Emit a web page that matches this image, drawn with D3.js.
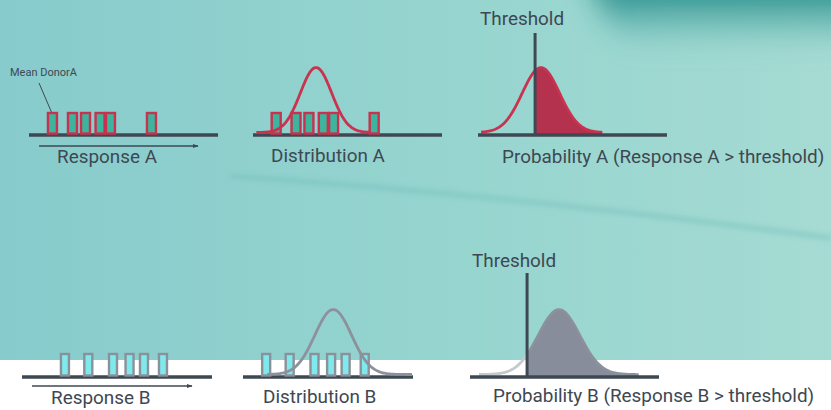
<!DOCTYPE html>
<html><head><meta charset="utf-8">
<script src="https://cdn.jsdelivr.net/npm/d3@7"></script>
<style>
html,body{margin:0;padding:0;background:#fff;}
svg{display:block;font-family:Roboto,"Noto Sans",sans-serif;}
</style></head>
<body>
<svg id="c" width="831" height="410"></svg>
<script>
// ---- data ----
const groups = ["A", "B"];
const responseA = [12.4, 23.0, 29.9, 37.6, 43.1, 64.8];   // donor responses, group A
const responseB = [22.6, 34.9, 47.9, 56.6, 64.2, 74.2];   // donor responses, group B
const distMean = [33.7, 57.7];     // fitted distribution mean (A, B)
const distSD = [8.4, 9.6];         // fitted distribution sd (A, B)
const probMean = [33.3, 47.1];     // distribution shown on probability panel
const probSD = [9.9, 11.0];
const threshold = 30.2;            // common threshold
const responseLabels = ["Response A", "Response B"];
const distLabels = ["Distribution A", "Distribution B"];
const probLabels = ["Probability A (Response A > threshold)", "Probability B (Response B > threshold)"];
const thresholdLabel = "Threshold";
const meanLabel = "Mean DonorA";

// ---- drawing ----
const svg = d3.select("#c");
const W = 831, H = 410;
const defs = svg.append("defs");

const bg = defs.append("linearGradient").attr("id", "bg").attr("x1", 0).attr("x2", 1).attr("y1", 0).attr("y2", 0);
bg.append("stop").attr("offset", "0").attr("stop-color", "#87cbcc");
bg.append("stop").attr("offset", "0.5").attr("stop-color", "#95d4cf");
bg.append("stop").attr("offset", "1").attr("stop-color", "#a5dbd3");
const dk = defs.append("linearGradient").attr("id", "dk").attr("x1", 0).attr("x2", 0).attr("y1", 0).attr("y2", 1);
dk.append("stop").attr("offset", "0").attr("stop-color", "#15817f").attr("stop-opacity", 1);
dk.append("stop").attr("offset", "0.4").attr("stop-color", "#238c8a").attr("stop-opacity", 0.75);
dk.append("stop").attr("offset", "1").attr("stop-color", "#4fa9a6").attr("stop-opacity", 0);
defs.append("filter").attr("id", "soft").attr("x", "-50%").attr("y", "-100%").attr("width", "200%").attr("height", "300%")
  .append("feGaussianBlur").attr("stdDeviation", 14);
defs.append("filter").attr("id", "blur").attr("x", "-20%").attr("y", "-200%").attr("width", "140%").attr("height", "500%")
  .append("feGaussianBlur").attr("stdDeviation", 2.4);
defs.append("marker").attr("id", "arr").attr("viewBox", "0 0 10 10").attr("refX", 9).attr("refY", 5)
  .attr("markerWidth", 6).attr("markerHeight", 6).attr("markerUnits", "userSpaceOnUse").attr("orient", "auto")
  .append("path").attr("d", "M0,1.5 L10,5 L0,8.5 Z").attr("fill", "#3e4852");

svg.append("rect").attr("width", W).attr("height", H).attr("fill", "url(#bg)");
svg.append("path").attr("d", "M590,-30 L880,-30 L880,40 Q760,52 640,46 Q600,40 590,-30 Z")
  .attr("fill", "url(#dk)").attr("filter", "url(#soft)");
svg.append("path").attr("d", "M230,176 Q520,196 831,238").attr("fill", "none")
  .attr("stroke", "#74bfba").attr("stroke-width", 5).attr("opacity", 0.5).attr("filter", "url(#blur)");
svg.append("rect").attr("x", 0).attr("y", 360).attr("width", W).attr("height", H - 360).attr("fill", "#ffffff");

const ink = "#3e4852";
const styles = [
  {bar: "#c8324e", barFill: "#3db49d", curve: "#c9334f", fill: "#b5324f", left: "#c9334f"},
  {bar: "#8b919a", barFill: "#7fe9ec", curve: "#8c919c", fill: "#878d9b", left: "#c4c9cc"}
];
const layout = [
  {base: 135, textY: 163, r: [29, 218], rAxis: [29, 218], arrowY: 146, arrow: [39, 198], rTx: 57,
   d: [253, 440], dAxis: [253, 442], dTx: 271, dTy: 162, dExt: [-3.8, 3.5],
   p: [478, 667], pAxis: [478, 667], pTx: 502, pTy: 163, thTop: 33, thTx: 480, thTy: 25, pExt: [-3.2, 3.3]},
  {base: 377, textY: 404, r: [22, 212], rAxis: [22, 212], arrowY: 386, arrow: [32, 192], rTx: 51,
   d: [223, 414], dAxis: [243, 413], dTx: 263, dTy: 403, dExt: [-3.6, 4.3],
   p: [470, 659], pAxis: [470, 659], pTx: 493, pTy: 402, thTop: 273, thTx: 472, thTy: 267, pExt: [-3.85, 3.85]}
];
const responses = [responseA, responseB];
const barW = [9, 8], barH = [22, 23];
const FS = 18.9;
const pdf = (x, m, s) => Math.exp(-0.5 * ((x - m) / s) ** 2) / (s * Math.sqrt(2 * Math.PI));

function label(txt, x, y, size) {
  svg.append("text").attr("x", x).attr("y", y).attr("fill", ink)
    .attr("font-size", size).text(txt);
}
function axisLine(x0, x1, y) {
  svg.append("line").attr("x1", x0).attr("x2", x1).attr("y1", y).attr("y2", y)
    .attr("stroke", ink).attr("stroke-width", 3.5);
}

groups.forEach((g, i) => {
  const L = layout[i], S = styles[i];
  // ---- response panel ----
  const xr = d3.scaleLinear().domain([0, 100]).range(L.r);
  axisLine(L.rAxis[0], L.rAxis[1], L.base);
  svg.append("g").selectAll("rect").data(responses[i]).join("rect")
    .attr("x", d => xr(d) - barW[i] / 2).attr("y", L.base - barH[i])
    .attr("width", barW[i]).attr("height", barH[i] - 1.5)
    .attr("fill", S.barFill).attr("stroke", S.bar).attr("stroke-width", 2.4);
  svg.append("line").attr("x1", L.arrow[0]).attr("x2", L.arrow[1]).attr("y1", L.arrowY).attr("y2", L.arrowY)
    .attr("stroke", ink).attr("stroke-width", 1.3).attr("marker-end", "url(#arr)");
  label(responseLabels[i], L.rTx, L.textY, FS);

  // ---- distribution panel ----
  const xd = d3.scaleLinear().domain([0, 100]).range(L.d);
  axisLine(L.dAxis[0], L.dAxis[1], L.base);
  svg.append("g").selectAll("rect").data(responses[i]).join("rect")
    .attr("x", d => xd(d) - barW[i] / 2).attr("y", L.base - barH[i])
    .attr("width", barW[i]).attr("height", barH[i] - 1.5)
    .attr("fill", S.barFill).attr("stroke", S.bar).attr("stroke-width", 2.4);
  const m = distMean[i], s = distSD[i];
  const yd = d3.scaleLinear().domain([0, pdf(m, m, s)]).range([L.base - 2.5, L.base - 67.5]);
  const pts = d3.range(m + L.dExt[0] * s, m + L.dExt[1] * s + 0.01, s / 20);
  const line = d3.line().x(d => xd(d)).y(d => yd(pdf(d, m, s))).curve(d3.curveBasis);
  svg.append("path").datum(pts).attr("d", line).attr("fill", "none")
    .attr("stroke", S.curve).attr("stroke-width", 2.8);
  label(distLabels[i], L.dTx, L.dTy, FS);

  // ---- probability panel ----
  const xp = d3.scaleLinear().domain([0, 100]).range(L.p);
  const pm = probMean[i], ps = probSD[i];
  const yp = d3.scaleLinear().domain([0, pdf(pm, pm, ps)]).range([L.base - 2.5, L.base - 67.5]);
  const all = d3.range(pm + L.pExt[0] * ps, pm + L.pExt[1] * ps + 0.01, ps / 25);
  const right = [threshold].concat(all.filter(d => d > threshold));
  const left = all.filter(d => d < threshold).concat([threshold]);
  const area = d3.area().x(d => xp(d)).y0(L.base - 1).y1(d => yp(pdf(d, pm, ps)));
  const pl = d3.line().x(d => xp(d)).y(d => yp(pdf(d, pm, ps)));
  svg.append("path").datum(right).attr("d", area).attr("fill", S.fill);
  svg.append("path").datum(right).attr("d", pl).attr("fill", "none").attr("stroke", S.curve).attr("stroke-width", 2.6);
  svg.append("path").datum(left).attr("d", pl).attr("fill", "none").attr("stroke", S.left).attr("stroke-width", 2.8);
  axisLine(L.pAxis[0], L.pAxis[1], L.base);
  svg.append("line").attr("x1", xp(threshold)).attr("x2", xp(threshold)).attr("y1", L.thTop).attr("y2", L.base)
    .attr("stroke", ink).attr("stroke-width", 3);
  label(thresholdLabel, L.thTx, L.thTy, FS);
  label(probLabels[i], L.pTx, L.pTy, FS);
});

// mean donor annotation
const xrA = d3.scaleLinear().domain([0, 100]).range(layout[0].r);
svg.append("line").attr("x1", 39).attr("y1", 83).attr("x2", xrA(responseA[0]) - 1).attr("y2", 112)
  .attr("stroke", ink).attr("stroke-width", 1);
label(meanLabel, 10, 76, 11);
</script>
</body></html>
